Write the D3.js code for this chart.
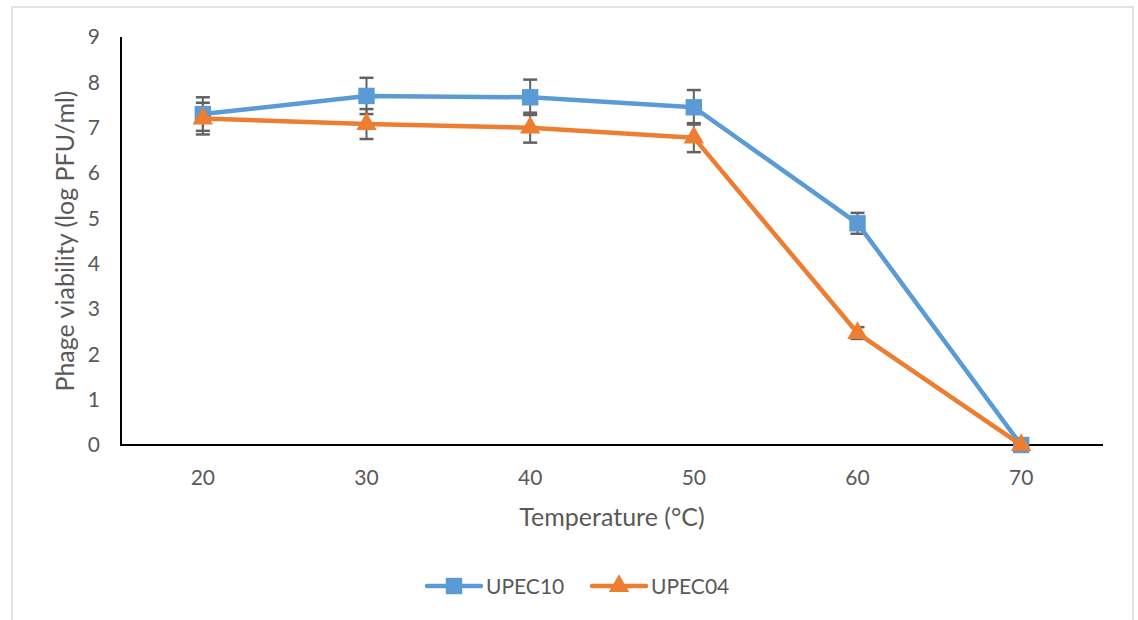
<!DOCTYPE html>
<html>
<head>
<meta charset="utf-8">
<script src="https://cdn.jsdelivr.net/npm/d3@7"></script>
<style>
  html, body { margin: 0; padding: 0; background: #fff; }
  svg { display: block; }
  text { font-family: Lato, "Open Sans", sans-serif; fill: #595959; }
</style>
</head>
<body>
<svg id="chart" width="1138" height="620"></svg>
<script>
const categories = ["20", "30", "40", "50", "60", "70"];
const upec10 = [7.30, 7.70, 7.67, 7.45, 4.89, 0];
const upec10Err = [0.37, 0.40, 0.39, 0.38, 0.23, 0];
const upec04 = [7.20, 7.08, 7.00, 6.78, 2.47, 0];
const upec04Err = [0.35, 0.33, 0.33, 0.32, 0.13, 0];
const yTicks = [0, 1, 2, 3, 4, 5, 6, 7, 8, 9];
const seriesNames = ["UPEC10", "UPEC04"];
const colors = ["#5B9BD5", "#ED7D31"];

(function () {
const svg = d3.select("#chart");

// frame
svg.append("rect").attr("x", 12).attr("y", 7).attr("width", 1121).attr("height", 640)
  .attr("fill", "#fff").attr("stroke", "#e3e3e3").attr("stroke-width", 2);

const mLeft = 121, mRight = 1103, mTop = 37, mBottom = 445;
const x = d3.scaleBand().domain(categories).range([mLeft, mRight]);
const y = d3.scaleLinear().domain([0, 9]).range([mBottom, mTop]);
const cx = c => x(c) + x.bandwidth() / 2;

// y tick labels
const yAxis = d3.axisLeft(y).tickValues(yTicks).tickSize(0).tickPadding(21).tickFormat(d3.format("d"));
const gy = svg.append("g").attr("transform", `translate(${mLeft},0)`).call(yAxis);
gy.select(".domain").remove();
gy.selectAll("text").style("font-size", "21px").attr("fill", "#595959");

// x tick labels
const xAxis = d3.axisBottom(x).tickSize(0).tickPadding(25);
const gx = svg.append("g").attr("transform", `translate(0,${mBottom})`).call(xAxis);
gx.select(".domain").remove();
gx.selectAll("text").style("font-size", "21px").attr("fill", "#595959");

// axis lines
svg.append("line").attr("x1", mLeft).attr("x2", mLeft).attr("y1", mTop).attr("y2", mBottom + 1)
  .attr("stroke", "#000").attr("stroke-width", 2);
svg.append("line").attr("x1", mLeft).attr("x2", mRight).attr("y1", mBottom).attr("y2", mBottom)
  .attr("stroke", "#000").attr("stroke-width", 2);

// axis titles
svg.append("text").attr("x", 612).attr("y", 526).attr("text-anchor", "middle")
  .style("font-size", "25px").text("Temperature (°C)");
svg.append("text").attr("transform", `translate(74,241) rotate(-90)`)
  .attr("text-anchor", "middle").style("font-size", "25px").text("Phage viability (log PFU/ml)");

const data = [
  { name: seriesNames[0], vals: upec10, errs: upec10Err, color: colors[0], sym: d3.symbolSquare, size: 270 },
  { name: seriesNames[1], vals: upec04, errs: upec04Err, color: colors[1], sym: d3.symbolTriangle, size: 180 }
];

// error bars
data.forEach(s => {
  const g = svg.append("g");
  s.vals.forEach((v, i) => {
    const e = s.errs[i];
    if (e <= 0) return;
    const px = cx(categories[i]);
    g.append("line").attr("x1", px).attr("x2", px).attr("y1", y(v + e)).attr("y2", y(v - e))
      .attr("stroke", "#626262").attr("stroke-width", 2);
    [v + e, v - e].forEach(t => {
      g.append("line").attr("x1", px - 7).attr("x2", px + 7).attr("y1", y(t)).attr("y2", y(t))
        .attr("stroke", "#626262").attr("stroke-width", 2.5);
    });
  });
});

// lines and markers
const line = d3.line().x((d, i) => cx(categories[i])).y(d => y(d));
data.forEach(s => {
  svg.append("path").datum(s.vals).attr("d", line).attr("fill", "none")
    .attr("stroke", s.color).attr("stroke-width", 4.5).attr("stroke-linejoin", "round");
  svg.append("g").selectAll("path").data(s.vals).join("path")
    .attr("d", d3.symbol().type(s.sym).size(s.size))
    .attr("transform", (d, i) => `translate(${cx(categories[i])},${y(d)})`)
    .attr("fill", s.color);
});

// legend
const legendX = [427, 592];
data.forEach((s, i) => {
  const lx = legendX[i], ly = 586;
  svg.append("line").attr("x1", lx).attr("x2", lx + 54).attr("y1", ly).attr("y2", ly)
    .attr("stroke", s.color).attr("stroke-width", 4.5).attr("stroke-linecap", "round");
  svg.append("path").attr("d", d3.symbol().type(s.sym).size(s.size))
    .attr("transform", `translate(${lx + 27},${ly})`).attr("fill", s.color);
  svg.append("text").attr("x", lx + 59).attr("y", ly + 8).style("font-size", "21px").text(s.name);
});
})();
</script>
</body>
</html>
